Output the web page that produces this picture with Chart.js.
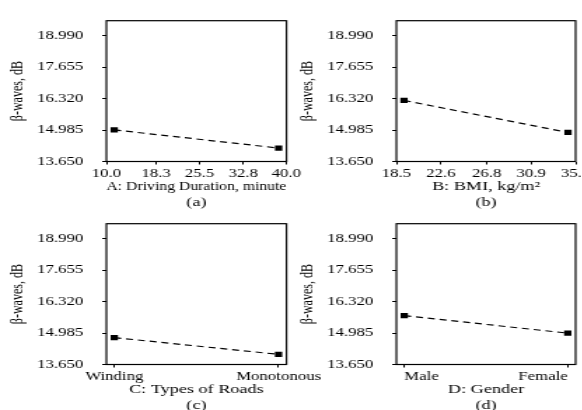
<!DOCTYPE html>
<html><head><meta charset="utf-8">
<script src="https://cdn.jsdelivr.net/npm/chart.js@4"></script>
<style>
html,body{margin:0;padding:0;background:#fff;overflow:hidden;width:582px;height:410px;}
canvas{position:absolute;transform-origin:0 0;transform:scaleX(1.4);}
</style></head><body>
<canvas id="cA" width="240" height="211" style="left:0;top:0"></canvas>
<canvas id="cB" width="208" height="211" style="left:290px;top:0"></canvas>
<canvas id="cC" width="240" height="211" style="left:0;top:202.5px"></canvas>
<canvas id="cD" width="208" height="211" style="left:290px;top:202.5px"></canvas>
<script>
// ---- data ----
const yTitle = 'β-waves, dB';
const yTickValues = [13.650, 14.985, 16.320, 17.655, 18.990];
const yMin = 13.65, yMax = 19.62;

const durationTicks = [10.0, 18.3, 25.5, 32.8, 40.0];
const durationX = [11.3, 38.7];
const durationY = [14.99, 14.22];

const bmiTicks = [18.5, 22.6, 26.8, 30.9, 35.0];
const bmiX = [19.2, 34.3];
const bmiY = [16.24, 14.88];

const roadCategories = ['Winding', 'Monotonous'];
const roadY = [14.79, 14.08];

const genderCategories = ['Male', 'Female'];
const genderY = [15.72, 14.98];

// ---- rendering ----
Chart.defaults.font.family = 'Liberation Serif';
Chart.defaults.font.size = 12;
Chart.defaults.color = '#000';

const framePlugin = {
  id: 'frame',
  beforeDatasetsDraw(chart) {
    const {ctx, chartArea: a} = chart;
    ctx.save();
    ctx.strokeStyle = '#000';
    ctx.lineWidth = 1.2;
    ctx.strokeRect(a.left, a.top, a.right - a.left, a.bottom - a.top);
    ctx.restore();
  }
};

function makePanel(id, o) {
  const tickFont = {family: 'Liberation Serif', size: 12, lineHeight: 1.2};
  const titleFont = {family: 'Liberation Serif', size: 13, lineHeight: 1.2};
  new Chart(document.getElementById(id), {
    type: 'line',
    data: {datasets: [{
      data: o.points,
      borderColor: '#000', backgroundColor: '#000',
      borderWidth: 1.2, borderDash: [5, 3.5],
      pointStyle: 'rect', pointRadius: 3.7, pointBorderWidth: 0,
      pointBackgroundColor: '#000', tension: 0, fill: false
    }]},
    options: {
      responsive: false, animation: false, devicePixelRatio: 1,
      layout: {padding: {top: 13.3, right: o.rightPad, bottom: 0.2, left: 0}},
      plugins: {
        legend: {display: false}, tooltip: {enabled: false},
        title: {display: true, text: o.caption, position: 'bottom', fullSize: false,
          color: '#000', font: {family: 'Liberation Serif', size: 13, weight: 'normal', lineHeight: 1.2},
          padding: {top: 0, bottom: 0}}
      },
      scales: {
        x: {
          type: 'linear', min: o.xMin, max: o.xMax,
          afterBuildTicks: s => { s.ticks = o.xTicks.map(v => ({value: v})); },
          afterFit: s => { s.height = 33.7; s.paddingLeft = 0; s.paddingRight = 0; },
          grid: {drawOnChartArea: false, drawTicks: true, tickLength: 3, color: '#000', lineWidth: 1},
          border: {display: false},
          ticks: {autoSkip: false, maxRotation: 0, minRotation: 0, padding: 2.3, color: '#000',
            font: tickFont, align: o.tickAlign, callback: v => o.xLabel(v)},
          title: {display: true, text: o.xTitle, color: '#000', font: titleFont, padding: {top: 0, bottom: 0.9}}
        },
        y: {
          type: 'linear', min: yMin, max: yMax,
          afterBuildTicks: s => { s.ticks = yTickValues.map(v => ({value: v})); },
          afterFit: s => { s.width = 76; },
          grid: {drawOnChartArea: false, drawTicks: true, tickLength: 3, color: '#000', lineWidth: 1},
          border: {display: false},
          ticks: {padding: 13.5, color: '#000', font: tickFont, callback: v => Number(v).toFixed(3)},
          title: {display: true, text: yTitle, color: '#000', font: tickFont, padding: {top: 5.7, bottom: 0}}
        }
      }
    },
    plugins: [framePlugin]
  });
}

makePanel('cA', {
  points: durationX.map((x, i) => ({x: x, y: durationY[i]})),
  xMin: 10, xMax: 40, xTicks: durationTicks, xLabel: v => Number(v).toFixed(1),
  xTitle: 'A: Driving Duration, minute', caption: '(a)', tickAlign: 'center', rightPad: 35.4
});
makePanel('cB', {
  points: bmiX.map((x, i) => ({x: x, y: bmiY[i]})),
  xMin: 18.5, xMax: 35, xTicks: bmiTicks, xLabel: v => Number(v).toFixed(1),
  xTitle: 'B: BMI, kg/m²', caption: '(b)', tickAlign: 'center', rightPad: 3.4
});
makePanel('cC', {
  points: roadCategories.map((c, i) => ({x: i, y: roadY[i]})),
  xMin: -0.048, xMax: 1.048, xTicks: roadCategories.map((c, i) => i), xLabel: v => roadCategories[v],
  xTitle: 'C: Types of Roads', caption: '(c)', tickAlign: 'center', rightPad: 35.4
});
makePanel('cD', {
  points: genderCategories.map((c, i) => ({x: i, y: genderY[i]})),
  xMin: -0.048, xMax: 1.048, xTicks: genderCategories.map((c, i) => i), xLabel: v => genderCategories[v],
  xTitle: 'D: Gender', caption: '(d)', tickAlign: 'inner', rightPad: 3.4
});
</script>
</body></html>
